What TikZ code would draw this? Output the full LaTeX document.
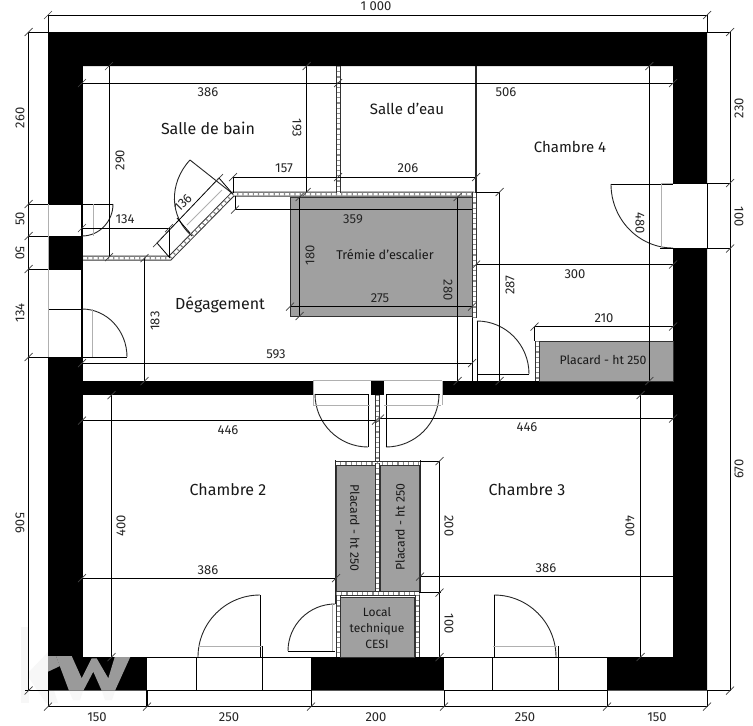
\documentclass[tikz,border=0pt]{standalone}
\usepackage{fontspec}
\setmainfont{Fira Sans}
\usetikzlibrary{calc}
\definecolor{plac}{HTML}{A0A0A0}
\definecolor{faint}{HTML}{F7F7F7}
\definecolor{kwg}{HTML}{9A9A9A}
\definecolor{gl}{HTML}{B0B0B0}
\tikzset{
  dimline/.style={draw=black,line width=0.8pt},
  thinl/.style={draw=gl,line width=0.8pt},
  doorarc/.style={draw=black!85,line width=0.9pt},
  closet/.style={fill=plac,draw=black!80,line width=1pt},
  ticks/.style={draw=black!75,line width=0.7pt},
  dimtxt/.style={font=\fontsize{13}{14}\selectfont,inner sep=0pt,text=black!85},
  room/.style={font=\fontsize{16}{18}\selectfont,inner sep=0pt,text=black!90},
  plactxt/.style={font=\fontsize{12.3}{14}\selectfont,inner sep=0pt,text=black!90,align=center},
  c1/.style={draw=black!80,line width=5pt},
  c2/.style={draw=white,line width=3pt},
  c3/.style={draw=black!45,line width=3pt,dash pattern=on 1.2pt off 4pt},
}
\newcommand{\cloison}[1]{\draw[c1] #1; \draw[c2] #1; \draw[c3] #1;}
\newcommand{\qarc}[3]{\draw[doorarc] (#1) .. controls ($(#1)!0.5523!(#2)$) and ($(#3)!0.5523!(#2)$) .. (#3);}
\newcommand{\tk}[2]{\draw[ticks] (#1-4,#2+4) -- (#1+4,#2-4);}
\begin{document}
\begin{tikzpicture}[x=1pt,y=-1pt]
\useasboundingbox (0,0) rectangle (753,726);
\fill[white] (0,0) rectangle (753,726);
% faint watermark on white
\fill[faint] (21,627) rectangle (29,703);
\fill[faint] (29,672) -- (48,652) -- (48,672) -- (58,703) -- (46,703) -- (29,678) -- cycle;
\fill[faint] (69,691) -- (83,691) -- (80,700) -- (73,700) -- cycle;
\fill[faint] (102,691) -- (115,691) -- (112,700) -- (105,700) -- cycle;
% walls
\fill[black,even odd rule] (48,32) rectangle (707,690.5) (82,66) rectangle (673,657);
\fill[black] (82,381) rectangle (673,395);
% openings
\fill[white] (48,204) rectangle (82,236);
\fill[white] (48,269) rectangle (82,357);
\fill[white] (673,183) rectangle (707,249);
\fill[white] (147,657) rectangle (311,690.5);
\fill[white] (444,657) rectangle (607,690.5);
\fill[white] (313,381) rectangle (371,395);
\fill[white] (384,381) rectangle (442,395);
% watermark on black
\fill[kwg] (56,656) -- (71.7,656) -- (81.7,678.3) -- (91.7,658.3) -- (96.7,658.3) -- (108.3,678.3) -- (115,656) -- (130.7,656) -- (115,690.7) -- (101.7,690.7) -- (93.3,671.7) -- (83.3,690.7) -- (69,690.7) -- cycle;
\fill[kwg] (48,671.7) -- (48,656) -- (56,656) -- (60,666) -- cycle;
\fill[white] (82,640) rectangle (147,656.9);
% closets and stair
\fill[closet] (290,197) rectangle (472,316);
\fill[closet] (539,341) rectangle (673,381);
\fill[closet] (336.5,465) rectangle (375,591);
\fill[closet] (380,465) rectangle (419.5,591);
\fill[closet] (340.5,597) rectangle (414.5,657);
% partitions
\cloison{(82,258) -- (170,258) -- (233,194) -- (474,194)}
\cloison{(474,192) -- (474,318)}
\cloison{(338,66) -- (338,193)}
\draw[black!85,line width=2pt] (476,66) -- (476,193);
\cloison{(537,341) -- (537,381)}
\cloison{(377.5,395) -- (377.5,463)}
\cloison{(335,463) -- (420,463)}
\cloison{(377.5,463) -- (377.5,592)}
\cloison{(336,593) -- (419.5,593)}
\cloison{(338,595) -- (338,657)}
\cloison{(417,595) -- (417,657)}
\draw[black!85,line width=1pt] (335,460) -- (335,604);
\draw[black!85,line width=1pt] (420,460) -- (420,593);
% frames of the openings
\draw[black,line width=1.2pt] (82,66) -- (82,657);
\draw[dimline] (82,204) -- (82,236);
\draw[dimline] (28,204) -- (82,204);
\draw[dimline] (28,236) -- (82,236);
\draw[dimline] (28,269) -- (82,269);
\draw[dimline] (48,309) -- (82,309);
\draw[dimline] (28,357) -- (82,357);
\draw[thinl] (48,204) -- (48,357);
\draw[dimline] (707,183) -- (707,249);
\draw[dimline] (147,657) -- (311,657);
\draw[dimline] (147,690.5) -- (311,690.5);
\draw[dimline] (444,657) -- (607,657);
\draw[dimline] (444,690.5) -- (607,690.5);
\draw[thinl] (313,380.5) -- (442,380.5);
\draw[dimline] (315,394.5) -- (368.5,394.5);
\draw[dimline] (386,394.5) -- (440,394.5);
% doors left
\draw[dimline] (82,204) -- (113,204);
\qarc{113,204}{113,236}{82,236}
\draw[thinl] (93,204) -- (93,236);
\qarc{82,309}{127,309}{127,357}
\draw[dimline] (82,357) -- (127,357);
\draw[thinl] (92,309) -- (92,357);
% door right
\draw[dimline] (611,184) -- (673,184);
\qarc{611,184}{611,248}{673,248}
\draw[thinl] (673,183) -- (661,183) -- (661,248) -- (673,248);
\draw[dimline] (673,183) -- (730,183);
\draw[dimline] (660,248.5) -- (730,248.5);
% door degagement
\draw[dimline] (472,318) -- (472,381);
\draw[dimline] (477,321) -- (477,381);
\qarc{477,321}{529,321}{529,374}
\draw[dimline] (477,374.5) -- (529,374.5);
% diagonal door
\draw[doorarc] (233,194) -- (190,160);
\qarc{190,160}{151,202}{192,236}
\draw[thinl] (222,190) -- (187,225);
\draw[dimline] (177,218) -- (190,233);
% middle doors
\qarc{315,394}{315,447}{368,447}
\draw[dimline] (368.5,394) -- (368.5,447);
\draw[thinl] (313,405) -- (370,405);
\draw[thinl] (313,381) -- (313,405);
\qarc{439,394}{439,447}{386,447}
\draw[dimline] (386,394) -- (386,447);
\draw[thinl] (384,405) -- (441,405);
\draw[thinl] (442,381) -- (442,405);
% door local
\qarc{335,604}{288,604}{288,651}
\draw[dimline] (288,651) -- (335,651);
\draw[thinl] (332,604) -- (332,651);
% bottom doors
\qarc{260,595}{198,595}{198,657}
\draw[dimline] (260,595) -- (260,657);
\draw[thinl] (198,646) -- (262,646);
\draw[dimline] (196.5,657) -- (196.5,690);
\draw[dimline] (262.5,646) -- (262.5,690);
\qarc{494,595}{556,595}{556,657}
\draw[dimline] (494,595) -- (494,657);
\draw[thinl] (493,646) -- (557,646);
\draw[dimline] (492.5,657) -- (492.5,690);
\draw[dimline] (558.5,646) -- (558.5,690);
% outer dimensions
\draw[dimline] (48,15) -- (707,15);
\draw[dimline] (48,15) -- (48,32);
\draw[dimline] (707,15) -- (707,32);
\draw[dimline] (28.7,32) -- (28.7,690.5);
\draw[dimline] (28.7,32) -- (48,32);
\draw[dimline] (25,690.5) -- (48,690.5);
\draw[dimline] (730,32) -- (730,690.5);
\draw[dimline] (707,32) -- (730,32);
\draw[dimline] (707,690.5) -- (730,690.5);
\draw[dimline] (48,706.5) -- (707,706.5);
\draw[dimline] (48,690) -- (48,706.5);
\draw[black,line width=1.4pt] (147,690) -- (147,706.5);
\draw[dimline] (311,690) -- (311,706.5);
\draw[dimline] (444,690) -- (444,706.5);
\draw[dimline] (607,690) -- (607,706.5);
\draw[dimline] (707,690) -- (707,706.5);
% inner dimensions
\draw[dimline] (82,83) -- (673,83);
\draw[dimline] (109,66) -- (109,257);
\draw[dimline] (306.7,66) -- (306.7,192);
\draw[dimline] (233,177) -- (476,177);
\draw[dimline] (233,177) -- (233,193);
\draw[dimline] (235,209.5) -- (472,209.5);
\draw[dimline] (235,196) -- (235,209.5);
\draw[dimline] (82,228) -- (169,228);
\draw[dimline] (169,228) -- (169,257);
\draw[dimline] (157,243) -- (219,178);
\draw[dimline] (157,243) -- (170,258);
\draw[dimline] (219,178) -- (232,193);
\draw[dimline] (299.7,197) -- (299.7,316);
\draw[dimline] (290,306.5) -- (472,306.5);
\draw[dimline] (457.7,197) -- (457.7,381);
\draw[dimline] (476,192) -- (499.7,192);
\draw[dimline] (499.7,192) -- (499.7,381);
\draw[dimline] (476,264.5) -- (673,264.5);
\draw[dimline] (649.3,66) -- (649.3,381);
\draw[dimline] (534.5,326.5) -- (673,326.5);
\draw[dimline] (534.5,326.5) -- (534.5,341);
\draw[dimline] (82,363) -- (472,363);
\draw[dimline] (144.5,258) -- (144.5,381);
\draw[dimline] (82,420.5) -- (376,420.5);
\draw[dimline] (380,418.5) -- (673,418.5);
\draw[dimline] (111.5,395) -- (111.5,657);
\draw[dimline] (640.7,395) -- (640.7,657);
\draw[dimline] (82,578) -- (336,578);
\draw[dimline] (420,576.5) -- (673,576.5);
\draw[dimline] (420,461) -- (439.5,461);
\draw[dimline] (439.5,461) -- (439.5,657);
\draw[black,line width=1.4pt] (419,592.5) -- (441,592.5);
% ticks
\foreach \px/\py in {48/15,707/15,28.7/32,28.7/204,28.7/236,28.7/269,28.7/357,28.7/690.5,730/32,730/183,730/248.5,730/690.5,48/706.5,147/706.5,311/706.5,444/706.5,607/706.5,707/706.5,82/83,338/83,673/83,109/66,109/257,306.7/66,306.7/192,233/177,338/177,476/177,235/209.5,299.7/197,299.7/316,290/306.5,472/306.5,457.7/197,457.7/381,499.7/192,499.7/381,476/264.5,673/264.5,649.3/66,649.3/381,534.5/326.5,673/326.5,472/363,82/363,144.5/258,144.5/381,82/420.5,376/420.5,380/418.5,673/418.5,111.5/395,111.5/657,640.7/395,640.7/657,82/578,336/578,420/576.5,439.5/461,439.5/592.5,439.5/657,157/243,219/178,82/228,169/228}{\tk{\px}{\py}}
% labels
\node[dimtxt] (d1000) at (376,6) {1 000};
\node[dimtxt,rotate=90] (d260) at (20,118) {260};
\node[dimtxt,rotate=90] (d50a) at (20,219) {50};
\node[dimtxt,rotate=-90] (d50b) at (20,253) {50};
\node[dimtxt,rotate=90] (d134l) at (20,313) {134};
\node[dimtxt,rotate=-90] (d506l) at (20,523) {506};
\node[dimtxt,rotate=90] (d230) at (739,108) {230};
\node[dimtxt,rotate=-90] (d100r) at (739,217) {100};
\node[dimtxt,rotate=90] (d670) at (739,469) {670};
\node[dimtxt] (d150a) at (97,717) {150};
\node[dimtxt] (d250a) at (229,717) {250};
\node[dimtxt] (d200b) at (376,717) {200};
\node[dimtxt] (d250b) at (525,717) {250};
\node[dimtxt] (d150b) at (657,717) {150};
\node[dimtxt] (d386a) at (208,92) {386};
\node[dimtxt] (d506) at (506,92) {506};
\node[dimtxt,rotate=90] (d290) at (120,160) {290};
\node[dimtxt,rotate=-90] (d193) at (297,128) {193};
\node[dimtxt] (d157) at (284,168) {157};
\node[dimtxt] (d206) at (408,168) {206};
\node[dimtxt] (d134) at (125,219) {134};
\node[dimtxt,rotate=45] (d136) at (183,203) {136};
\node[dimtxt] (d359) at (353,219) {359};
\node[dimtxt,rotate=90] (d180) at (310,255) {180};
\node[dimtxt] (d275) at (380,298) {275};
\node[dimtxt,rotate=-90] (d280) at (448,290) {280};
\node[dimtxt,rotate=90] (d287) at (510,285) {287};
\node[dimtxt] (d300) at (575,274) {300};
\node[dimtxt,rotate=-90] (d480) at (640,223) {480};
\node[dimtxt] (d210) at (604,318) {210};
\node[dimtxt] (d593) at (276,354) {593};
\node[dimtxt,rotate=90] (d183) at (155,321) {183};
\node[dimtxt] (d446a) at (228,430) {446};
\node[dimtxt] (d446b) at (527,427) {446};
\node[dimtxt,rotate=90] (d400a) at (121,526) {400};
\node[dimtxt,rotate=-90] (d400b) at (630,526) {400};
\node[dimtxt] (d386b) at (208,570) {386};
\node[dimtxt] (d386c) at (546,568) {386};
\node[dimtxt,rotate=-90] (d200) at (449,526) {200};
\node[dimtxt,rotate=-90] (d100) at (449,624) {100};
\node[room] (sdb) at (208,128) {Salle de bain};
\node[room,font=\fontsize{15}{17}\selectfont] (sde) at (407,109) {Salle d'eau};
\node[room,font=\fontsize{15}{17}\selectfont] (ch4) at (570,147) {Chambre 4};
\node[room] (deg) at (220,305) {Dégagement};
\node[room] (ch2) at (228,490) {Chambre 2};
\node[room] (ch3) at (527,490) {Chambre 3};
\node[plactxt,font=\fontsize{12.7}{14}\selectfont] (trem) at (385,254) {Trémie d'escalier};
\node[plactxt] (pl1) at (603,360) {Placard - ht 250};
\node[plactxt,rotate=-90] (pl2) at (355,528) {Placard - ht 250};
\node[plactxt,rotate=90] (pl3) at (400,527) {Placard - ht 250};
\node[plactxt,font=\fontsize{12}{16}\selectfont] (loc) at (377,628) {Local\\technique\\CESI};
\end{tikzpicture}
\end{document}
